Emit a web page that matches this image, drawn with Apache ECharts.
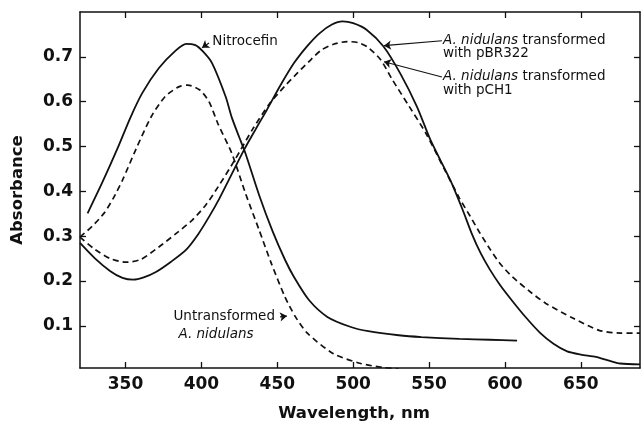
<!DOCTYPE html>
<html><head><meta charset="utf-8">
<script src="https://cdn.jsdelivr.net/npm/echarts@6/dist/echarts.min.js"></script>
<style>html,body{margin:0;padding:0;background:#fff;overflow:hidden}#c{width:644px;height:424px}</style>
</head><body><div id="c"></div>
<script>
// ---- data (wavelength nm, absorbance) ----
const wavelengthTicks = [350, 400, 450, 500, 550, 600, 650];
const absorbanceTicks = [0.1, 0.2, 0.3, 0.4, 0.5, 0.6, 0.7];

const nitrocefin = [[325,0.351],[335,0.422],[345,0.498],[353,0.563],[361,0.619],[372,0.675],[383,0.714],[390,0.729],[396,0.726],[401,0.712],[407,0.686],[416,0.611],[420,0.565],[425,0.52],[429,0.485],[438,0.392],[447,0.31],[455,0.248],[461,0.209],[471,0.157],[483,0.12],[498,0.098],[510,0.088],[530,0.079],[545,0.075],[570,0.071],[590,0.069],[608,0.067]];

const untransformed = [[320,0.298],[328,0.322],[336,0.352],[342,0.385],[348,0.425],[357,0.495],[367,0.567],[376,0.611],[385,0.633],[391,0.637],[399,0.626],[405,0.6],[411,0.55],[420,0.485],[429,0.396],[438,0.314],[446,0.24],[455,0.165],[462,0.12],[470,0.083],[487,0.038],[505,0.016],[520,0.007],[530,0.004]];

const pBR322 = [[320,0.285],[330,0.25],[340,0.222],[348,0.207],[355,0.203],[362,0.208],[370,0.22],[380,0.243],[390,0.27],[398,0.305],[405,0.343],[412,0.385],[418,0.425],[428,0.492],[436,0.54],[443,0.581],[452,0.636],[461,0.686],[470,0.725],[478,0.753],[486,0.772],[493,0.779],[500,0.775],[509,0.76],[520,0.723],[531,0.663],[542,0.589],[551,0.514],[564,0.425],[572,0.36],[578,0.307],[584,0.262],[590,0.226],[597,0.19],[605,0.155],[614,0.118],[623,0.085],[632,0.06],[641,0.043],[650,0.036],[660,0.031],[668,0.023],[676,0.016],[689,0.014]];

const pCH1 = [[320,0.298],[330,0.27],[340,0.25],[350,0.242],[360,0.248],[372,0.276],[383,0.305],[394,0.336],[403,0.37],[411,0.41],[422,0.47],[434,0.54],[445,0.596],[455,0.635],[463,0.663],[471,0.69],[479,0.715],[487,0.728],[496,0.734],[503,0.732],[509,0.723],[518,0.694],[526,0.648],[537,0.589],[548,0.529],[560,0.45],[570,0.385],[577,0.345],[583,0.31],[590,0.272],[597,0.238],[605,0.209],[617,0.175],[627,0.15],[645,0.117],[662,0.09],[676,0.084],[689,0.084]];

// annotation texts, anchored in data coordinates [wavelength, absorbance]
const annotationTexts = [
  {at:[407.2,0.734], text:'Nitrocefin'},
  {at:[559.2,0.737], text:'{i|A. nidulans} transformed'},
  {at:[559.2,0.707], text:'with pBR322'},
  {at:[559.2,0.656], text:'{i|A. nidulans} transformed'},
  {at:[559.2,0.625], text:'with pCH1'},
  {at:[381.6,0.120], text:'Untransformed'},
  {at:[384.9,0.080], text:'{i|A. nidulans}'}
];
// leader arrows [from, to]
const annotationArrows = [
  [[405.0,0.731],[400.4,0.720]],
  [[558.5,0.736],[520.3,0.725]],
  [[558.5,0.655],[520.3,0.689]],
  [[451.8,0.120],[456.4,0.122]]
];

const FONT = 'DejaVu Sans';
const INK = '#111';
const chart = echarts.init(document.getElementById('c'));

function xAxisDef(pos, labels) {
  return {
    type:'value', position:pos, min:320, max:689,
    axisLine:{show:true, onZero:false, lineStyle:{color:INK, width:1.5}},
    axisTick:{show:true, inside:true, length:6, customValues:wavelengthTicks, lineStyle:{color:INK, width:1.3}},
    axisLabel:{show:labels, customValues:wavelengthTicks, margin:8, color:INK, fontFamily:FONT, fontSize:17, fontWeight:'bold'},
    splitLine:{show:false},
    name: labels ? 'Wavelength, nm' : '',
    nameLocation:'middle', nameGap:37,
    nameTextStyle:{color:INK, fontFamily:FONT, fontSize:16.5, fontWeight:'bold', padding:[0,12,0,0]}
  };
}
function yAxisDef(pos, labels) {
  return {
    type:'value', position:pos, min:0.006, max:0.8,
    axisLine:{show:true, onZero:false, lineStyle:{color:INK, width:1.5}},
    axisTick:{show:true, inside:true, length:6, customValues:absorbanceTicks, lineStyle:{color:INK, width:1.3}},
    axisLabel:{show:labels, customValues:absorbanceTicks, margin:7, color:INK, fontFamily:FONT, fontSize:17, fontWeight:'bold',
      formatter:v=>v.toFixed(1)},
    splitLine:{show:false},
    name: labels ? 'Absorbance' : '',
    nameLocation:'middle', nameGap:54, nameRotate:90,
    nameTextStyle:{color:INK, fontFamily:FONT, fontSize:16.5, fontWeight:'bold'}
  };
}
function lineSeries(name, data, dashed) {
  return {
    name, type:'line', data, showSymbol:false, smooth:0.25,
    lineStyle:{color:INK, width:dashed?1.7:1.8, type:dashed?[6,4]:'solid'},
    animation:false, silent:true
  };
}

const series = [
  lineSeries('Nitrocefin', nitrocefin, false),
  lineSeries('Untransformed A. nidulans', untransformed, true),
  lineSeries('A. nidulans transformed with pBR322', pBR322, false),
  lineSeries('A. nidulans transformed with pCH1', pCH1, true)
];
series[0].markLine = {
  silent:true, animation:false, symbol:['none','arrow'], symbolSize:7,
  label:{show:false},
  lineStyle:{color:INK, width:1.1, type:'solid'},
  data: annotationArrows.map(a => [{coord:a[0]},{coord:a[1]}])
};

chart.setOption({
  animation:false,
  backgroundColor:'#fff',
  grid:{left:80, right:4, top:12, bottom:56, containLabel:false, outerBoundsMode:'none'},
  xAxis:[xAxisDef('bottom', true), xAxisDef('top', false)],
  yAxis:[yAxisDef('left', true), yAxisDef('right', false)],
  series
});

const graphics = annotationTexts.map(t => {
  const p = chart.convertToPixel({seriesIndex:0}, t.at);
  return {
    type:'text', x:p[0], y:p[1], silent:true,
    style:{
      text:t.text, fill:INK, fontFamily:FONT, fontSize:13.5,
      align:'left', verticalAlign:'middle',
      rich:{i:{fontStyle:'italic', fontFamily:FONT, fontSize:13.5, fill:INK}}
    }
  };
});
chart.setOption({graphic:graphics});
</script>
</body></html>
